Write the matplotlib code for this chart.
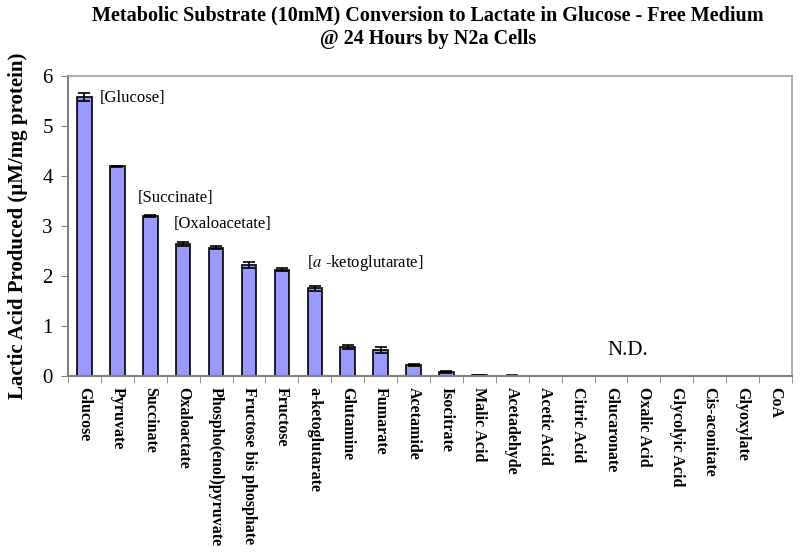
import matplotlib
matplotlib.use("Agg")
import matplotlib.pyplot as plt
import numpy as np

plt.rcParams['font.family'] = 'Liberation Serif'
plt.rcParams['mathtext.fontset'] = 'stix'

substrates = ["Glucose", "Pyruvate", "Succinate", "Oxaloactate", "Phospho(enol)pyruvate",
              "Fructose bis phosphate", "Fructose", "a-ketoglutarate", "Glutamine", "Fumarate",
              "Acetamide", "Isocitrate", "Malic Acid", "Acetadehyde", "Acetic Acid", "Citric Acid",
              "Glucaronate", "Oxalic Acid", "Glycolyic Acid", "Cis-aconitate", "Glyoxylate", "CoA"]
lactate = [5.58, 4.19, 3.2, 2.63, 2.56, 2.22, 2.12, 1.75, 0.58, 0.52,
           0.22, 0.07, 0.01, 0.005, 0, 0, 0, 0, 0, 0, 0, 0]
errors = [0.08, 0.01, 0.02, 0.04, 0.03, 0.06, 0.03, 0.05, 0.04, 0.06,
          0.02, 0.02, 0.01, 0.005, 0, 0, 0, 0, 0, 0, 0, 0]

fig = plt.figure(figsize=(8, 5.52), dpi=100)
ax = fig.add_axes([0.085, 0.319, 0.905, 0.5435])

x = np.arange(len(substrates))
ax.bar(x, lactate, width=0.44, color="#9999FF", edgecolor="black", linewidth=1.2,
       yerr=errors, capsize=4, error_kw={"elinewidth": 1.2, "capthick": 1.2})

ax.set_xlim(-0.5, len(substrates) - 0.5)
ax.set_ylim(0, 6)
ax.set_yticks(range(0, 7))
ax.tick_params(axis="y", labelsize=15, direction="out", length=5, color="#808080", pad=6)

# category labels sit under the bars, ticks between categories
ax.set_xticks(x)
ax.set_xticklabels(substrates, rotation=-90, fontsize=11.5, fontweight="bold", va="top")
ax.tick_params(axis="x", length=0, pad=8)
ax.set_xticks(np.arange(-0.5, len(substrates), 1), minor=True)
ax.tick_params(axis="x", which="minor", length=5, color="#808080", direction="out")

for side in ["left", "bottom"]:
    ax.spines[side].set_color("#808080")
    ax.spines[side].set_linewidth(1.5)
for side in ["top", "right"]:
    ax.spines[side].set_color("#A0A0A0")
    ax.spines[side].set_linewidth(1.2)

ax.set_ylabel("Lactic Acid Produced (\u00b5M/mg protein)", fontsize=15, fontweight="bold", labelpad=10)

ax.text(0.47, 5.56, "[Glucose]", fontsize=12, va="center")
ax.text(1.63, 3.56, "[Succinate]", fontsize=12, va="center")
ax.text(2.72, 3.04, "[Oxaloacetate]", fontsize=12, va="center")
ax.text(6.76, 2.26, r"[$a$ -ketoglutarate]", fontsize=12, va="center")
ax.text(16.5, 0.5, "N.D.", fontsize=15, ha="center", va="center")

fig.suptitle("Metabolic Substrate (10mM) Conversion to Lactate in Glucose - Free Medium\n@ 24 Hours by N2a Cells",
             x=0.535, y=0.99, fontsize=14.5, fontweight="bold", linespacing=1.25)

fig.savefig("out.png", dpi=100)
